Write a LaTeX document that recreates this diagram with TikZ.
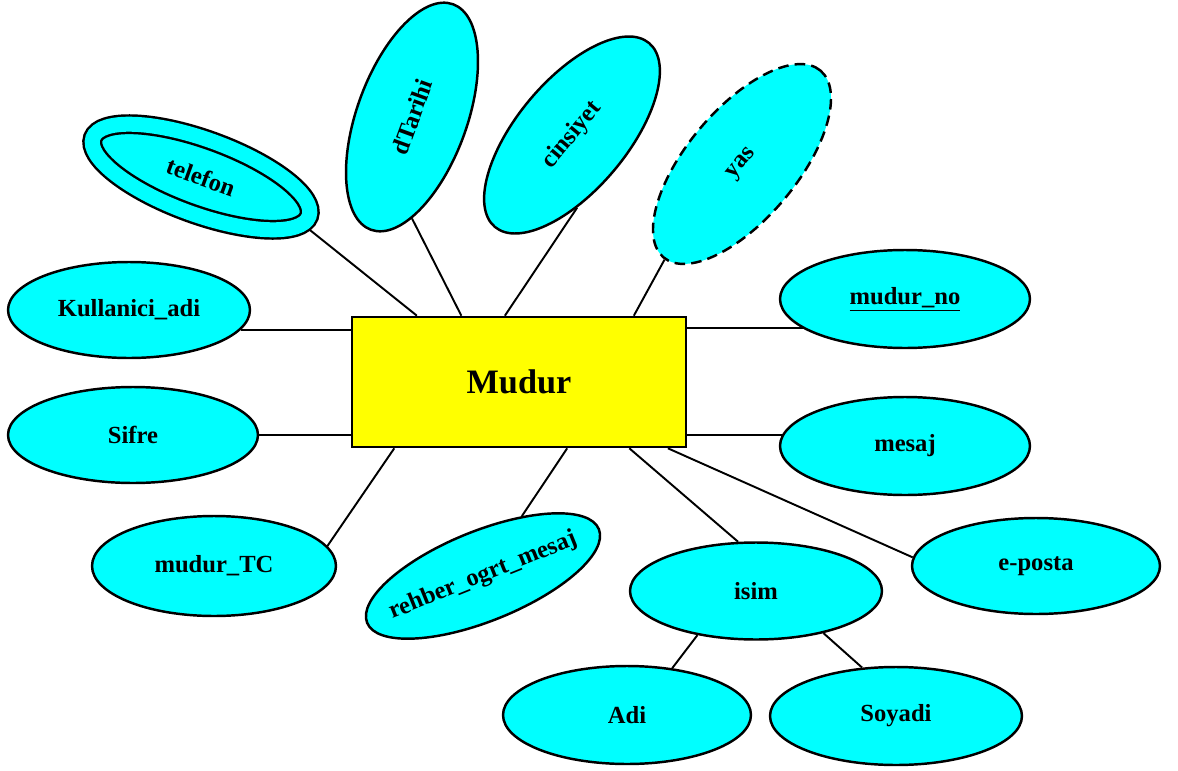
\documentclass[tikz,border=0pt]{standalone}
\usepackage{fontspec}
\setmainfont{Liberation Serif}
\usepackage{tikz}
\usetikzlibrary{shapes.geometric,backgrounds}
\definecolor{attrcyan}{RGB}{0,255,255}
\definecolor{entyellow}{RGB}{255,255,0}
\tikzstyle{attr} = [draw=black, line width=1.4pt, fill=attrcyan, ellipse, inner sep=0pt, minimum width=5cm, minimum height=1.94cm, font={\fontsize{14}{16}\selectfont\bfseries}]
\tikzstyle{entity} = [draw=black, line width=1.5pt, fill=entyellow, rectangle, minimum width=6.68cm, minimum height=2.6cm, font={\fontsize{19.5}{22}\selectfont\bfseries}]
\tikzstyle{derived} = [dash pattern=on 6pt off 3.5pt]
\tikzstyle{multi} = [double=attrcyan, double distance=0.3cm]
\tikzstyle{link} = [draw=black, line width=1.1pt]

\begin{document}
\begin{tikzpicture}[x=0.02cm, y=-0.02cm]
        \useasboundingbox (0,0) rectangle (1178,771);
        \node[entity](mudur) at (519,382){Mudur};
        \node[attr,multi,minimum width=4.6cm,minimum height=1.5cm,rotate=-20](telefon) at (201,177){telefon};
        \node[attr,minimum width=4.8cm,minimum height=2.2cm,rotate=70](dtarihi) at (412,117){dTarihi};
        \node[attr,minimum width=4.8cm,minimum height=2.2cm,rotate=50](cinsiyet) at (572,135){cinsiyet};
        \node[attr,derived,minimum width=4.88cm,minimum height=2.2cm,rotate=50](yas) at (742,164){yas};
        \node[attr,minimum width=4.84cm,minimum height=1.92cm](kullanici) at (129,310){Kullanici\_adi};
        \node[attr,minimum height=1.92cm](sifre) at (133,435){Sifre};
        \node[attr,minimum width=4.88cm,minimum height=2cm](mudurtc) at (214,566){mudur\_TC};
        \node[attr,minimum height=1.8cm,rotate=22](rehber) at (483,576){\makebox[0pt]{rehber\_ogrt\_mesaj}};
        \node[attr,minimum width=5.04cm](isim) at (756,591){isim};
        \node[attr,minimum width=4.96cm,minimum height=1.96cm](adi) at (627,715){Adi};
        \node[attr,minimum width=5.04cm,minimum height=1.96cm](soyadi) at (896,716){Soyadi};
        \node[attr,minimum width=4.96cm,minimum height=1.92cm](eposta) at (1036,566){e-posta};
        \node[attr,minimum height=1.96cm](mesaj) at (905,446){mesaj};
        \node[attr,minimum height=1.96cm](mudurno) at (905,299){\underline{mudur\_no}};
        \begin{scope}[on background layer]
        \draw[link](telefon.355)--(mudur.147);
        \draw[link](dtarihi.200)--(mudur.131);
        \draw[link](cinsiyet.224)--(mudur.102);
        \draw[link](yas.181)--(mudur.30);
        \draw[link](kullanici.350)--(kullanici.350 -| mudur.west);
        \draw[link](sifre.east)--(sifre.east -| mudur.west);
        \draw[link](mudurtc.10)--(mudur.208);
        \draw[link](rehber.35)--(mudur.306);
        \draw[link](isim.110)--(mudur.329);
        \draw[link](eposta.176)--(mudur.336);
        \draw[link](mesaj.175)--(mesaj.175 -| mudur.east);
        \draw[link](mudurno.196)--(mudurno.196 -| mudur.east);
        \draw[link](isim.217)--(adi.46);
        \draw[link](isim.328)--(soyadi.125);
        \end{scope}
      \end{tikzpicture}
\end{document}
